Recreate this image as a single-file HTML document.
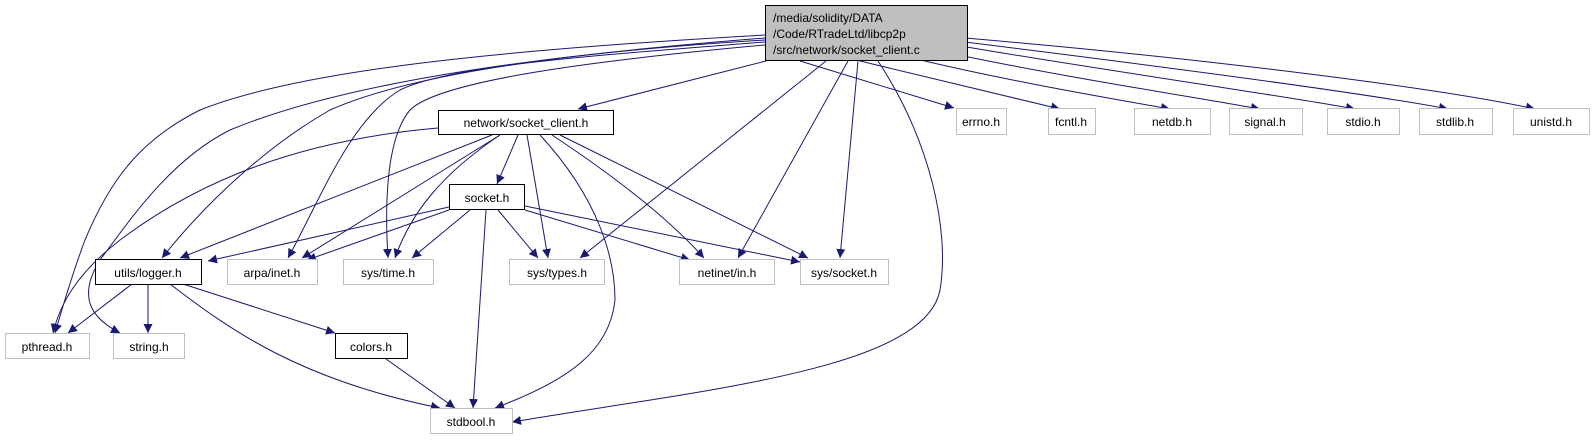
<!DOCTYPE html>
<html><head><meta charset="utf-8"><style>
html,body{margin:0;padding:0;background:#fff;}
svg{display:block;}
text{font-family:"Liberation Sans","DejaVu Sans",sans-serif;font-size:12px;fill:#000;}
.e{fill:none;stroke:#191970;stroke-width:1;}
</style></head><body>
<svg width="1594" height="440" viewBox="0 0 1594 440" xmlns="http://www.w3.org/2000/svg">
<defs><marker id="a" viewBox="0 0 10 10" refX="10" refY="5" markerWidth="9" markerHeight="9" orient="auto" markerUnits="userSpaceOnUse"><path d="M0,0 L10,5 L0,10 z" fill="#191970"/></marker></defs>
<g marker-end="url(#a)">
<!-- from main -->
<path class="e" d="M766,61 L578,109"/>
<path class="e" d="M800,61 L954,108"/>
<path class="e" d="M860,61 L1060,109"/>
<path class="e" d="M900,55 C1000,80 1120,100 1170,109"/>
<path class="e" d="M935,50 C1050,75 1200,98 1260,109"/>
<path class="e" d="M955,45 C1100,70 1280,95 1355,109"/>
<path class="e" d="M965,42 C1150,65 1360,92 1448,109"/>
<path class="e" d="M965,38 C1200,58 1440,88 1535,109"/>
<path class="e" d="M826,61 L580,258"/>
<path class="e" d="M848,61 L738,258"/>
<path class="e" d="M858,61 L840,258"/>
<path class="e" d="M878,61 C930,140 950,230 940,290 C925,370 700,390 512,422"/>
<!-- left curves -->
<path class="e" d="M765,35 C500,50 300,70 200,110 C140,140 110,180 85,240 C70,280 62,310 55,333"/>
<path class="e" d="M765,38 C550,55 350,80 230,130 C170,160 130,220 100,260 C75,300 95,320 120,333"/>
<path class="e" d="M765,40 C600,50 420,70 330,110 C260,150 200,210 162,258"/>
<path class="e" d="M765,42 C600,55 450,65 400,90 C350,120 320,200 288,258"/>
<path class="e" d="M765,45 C600,60 440,80 410,110 C385,140 385,210 388,258"/>
<!-- from socket_client.h -->
<path class="e" d="M438,128 C300,140 200,180 120,240 C75,275 60,305 53,333"/>
<path class="e" d="M492,135 L180,258"/>
<path class="e" d="M500,135 L302,258"/>
<path class="e" d="M500,135 C440,175 410,215 395,258"/>
<path class="e" d="M518,135 L497,184"/>
<path class="e" d="M527,135 L548,258"/>
<path class="e" d="M540,135 C600,200 615,260 615,300 C610,350 570,380 495,408"/>
<path class="e" d="M552,135 C620,180 670,220 704,258"/>
<path class="e" d="M560,135 L808,258"/>
<!-- from socket.h -->
<path class="e" d="M449,207 L208,261"/>
<path class="e" d="M449,210 L307,260"/>
<path class="e" d="M470,210 L412,258"/>
<path class="e" d="M486,210 L473,408"/>
<path class="e" d="M498,210 L538,258"/>
<path class="e" d="M525,210 L690,260"/>
<path class="e" d="M525,206 L800,262"/>
<!-- from utils/logger.h -->
<path class="e" d="M132,284 L68,333"/>
<path class="e" d="M148,284 L148,333"/>
<path class="e" d="M183,284 L335,333"/>
<path class="e" d="M170,284 C230,330 300,380 440,408"/>
<!-- colors -->
<path class="e" d="M386,359 L455,408"/>
</g>
<!-- nodes -->
<g stroke-width="1">
<rect x="765.5" y="5.5" width="202" height="55" fill="#bfbfbf" stroke="#000"/>
<rect x="438.5" y="110.5" width="175" height="24" fill="#fff" stroke="#000"/>
<rect x="449.5" y="184.5" width="75" height="25" fill="#fff" stroke="#000"/>
<rect x="95.5" y="259.5" width="106" height="25" fill="#fff" stroke="#000"/>
<rect x="335.5" y="333.5" width="72" height="25" fill="#fff" stroke="#000"/>
<g fill="#fff" stroke="#bfbfbf">
<rect x="227.5" y="259.5" width="90" height="25"/>
<rect x="343.5" y="259.5" width="90" height="25"/>
<rect x="509.5" y="259.5" width="95" height="25"/>
<rect x="679.5" y="259.5" width="95" height="25"/>
<rect x="800.5" y="259.5" width="88" height="25"/>
<rect x="5.5" y="333.5" width="84" height="25"/>
<rect x="113.5" y="333.5" width="71" height="25"/>
<rect x="430.5" y="408.5" width="82" height="25"/>
<rect x="956.5" y="108.5" width="50" height="26"/>
<rect x="1048.5" y="108.5" width="47" height="26"/>
<rect x="1134.5" y="108.5" width="76" height="26"/>
<rect x="1229.5" y="108.5" width="73" height="26"/>
<rect x="1327.5" y="108.5" width="72" height="26"/>
<rect x="1419.5" y="108.5" width="73" height="26"/>
<rect x="1513.5" y="108.5" width="76" height="26"/>
</g></g>
<text x="773" y="22">/media/solidity/DATA</text>
<text x="773" y="38">/Code/RTradeLtd/libcp2p</text>
<text x="773" y="54">/src/network/socket_client.c</text>
<g text-anchor="middle">
<text x="526" y="127">network/socket_client.h</text>
<text x="487" y="202">socket.h</text>
<text x="148" y="277">utils/logger.h</text>
<text x="272" y="277">arpa/inet.h</text>
<text x="388" y="277">sys/time.h</text>
<text x="557" y="277">sys/types.h</text>
<text x="727" y="277">netinet/in.h</text>
<text x="844" y="277">sys/socket.h</text>
<text x="47" y="351">pthread.h</text>
<text x="149" y="351">string.h</text>
<text x="371" y="351">colors.h</text>
<text x="471" y="426">stdbool.h</text>
<text x="981" y="126">errno.h</text>
<text x="1071" y="126">fcntl.h</text>
<text x="1172" y="126">netdb.h</text>
<text x="1265" y="126">signal.h</text>
<text x="1363" y="126">stdio.h</text>
<text x="1455" y="126">stdlib.h</text>
<text x="1551" y="126">unistd.h</text>
</g>
</svg>
</body></html>
